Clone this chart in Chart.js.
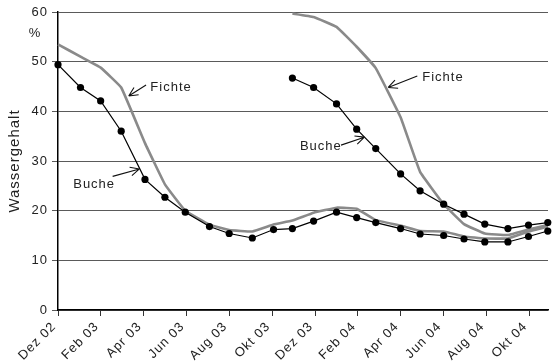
<!DOCTYPE html>
<html>
<head>
<meta charset="utf-8">
<script src="https://cdn.jsdelivr.net/npm/chart.js@4"></script>
<style>
  html, body { margin: 0; padding: 0; background: #fff; }
  #wrap { width: 552px; height: 364px; }
</style>
</head>
<body>
<div id="wrap"><canvas id="chart" width="552" height="364"></canvas></div>
<script>
// x positions are months counted from Dez 02
const xLabels = ["Dez 02", "Feb 03", "Apr 03", "Jun 03", "Aug 03", "Okt 03", "Dez 03", "Feb 04", "Apr 04", "Jun 04", "Aug 04", "Okt 04"];
const xTickMonths = [0, 2, 4, 6, 8, 10, 12, 14, 16, 18, 20, 22];
const yTicks = [0, 10, 20, 30, 40, 50, 60];

// first year (from Dez 02)
const monthsA = [0, 1.05, 1.99, 2.95, 4.06, 4.99, 5.94, 7.07, 7.99, 9.07, 10.06, 10.94, 11.93, 13.0, 13.94, 14.83, 15.99, 16.9, 18.0, 18.95, 19.92, 21.0, 21.96, 22.86];
const bucheA = [49.4, 44.8, 42.1, 36.0, 26.3, 22.7, 19.7, 16.8, 15.4, 14.5, 16.2, 16.4, 17.9, 19.7, 18.6, 17.6, 16.4, 15.3, 15.0, 14.3, 13.7, 13.7, 14.8, 15.9];
const fichteA = [53.5, 51.0, 48.8, 44.8, 33.6, 25.3, 20.0, 17.2, 16.1, 15.8, 17.2, 18.0, 19.6, 20.6, 20.4, 18.1, 17.0, 15.9, 15.8, 14.8, 14.4, 14.4, 15.8, 16.8];

// second year (from Dez 03)
const monthsB = [10.94, 11.93, 13.0, 13.94, 14.83, 15.99, 16.9, 18.0, 18.95, 19.92, 21.0, 21.96, 22.86];
const bucheB = [46.7, 44.8, 41.5, 36.4, 32.5, 27.4, 24.0, 21.3, 19.3, 17.3, 16.4, 17.1, 17.6];
const fichteB = [59.7, 59.0, 57.0, 53.0, 48.7, 38.8, 27.8, 21.3, 17.3, 15.4, 15.1, 16.2, 17.1];

// labels with arrows: text anchor and arrow (from -> to), in month / % units
const notes = [
  { text: "Fichte", at: [4.31, 44.9], from: [4.11, 45.3], to: [3.30, 43.1] },
  { text: "Buche", at: [0.71, 25.2], from: [2.55, 26.9], to: [3.80, 28.4] },
  { text: "Buche", at: [11.29, 32.9], from: [13.21, 33.2], to: [14.30, 34.8] },
  { text: "Fichte", at: [17.0, 46.8], from: [16.77, 47.1], to: [15.41, 44.8] }
];

const pts = (xs, ys) => xs.map((x, i) => ({ x: x, y: ys[i] }));
const FONT = "'Liberation Sans', Arial, sans-serif";

const buche = (xs, ys) => ({
  data: pts(xs, ys),
  borderColor: "#000",
  backgroundColor: "#000",
  borderWidth: 1.2,
  pointRadius: 3.6,
  pointBorderWidth: 0,
  tension: 0,
  order: 1,
  clip: false
});
const fichte = (xs, ys) => ({
  data: pts(xs, ys),
  borderColor: "#8a8a8a",
  borderWidth: 2.6,
  pointRadius: 0,
  tension: 0.08,
  order: 2,
  clip: false
});

const spacing = {
  id: "spacing",
  beforeDraw(chart) { chart.ctx.letterSpacing = "1px"; }
};

const annotations = {
  id: "annotations",
  afterDatasetsDraw(chart) {
    const { ctx, scales: { x, y } } = chart;
    ctx.save();
    ctx.font = "13px " + FONT;
    ctx.fillStyle = "#222";
    ctx.textBaseline = "middle";
    ctx.strokeStyle = "#111";
    ctx.lineWidth = 1.1;
    notes.forEach(n => {
      ctx.textAlign = "left";
      ctx.fillText(n.text, x.getPixelForValue(n.at[0]), y.getPixelForValue(n.at[1]));
      const x1 = x.getPixelForValue(n.from[0]), y1 = y.getPixelForValue(n.from[1]);
      const x2 = x.getPixelForValue(n.to[0]), y2 = y.getPixelForValue(n.to[1]);
      const ang = Math.atan2(y2 - y1, x2 - x1);
      ctx.beginPath();
      ctx.moveTo(x1, y1);
      ctx.lineTo(x2, y2);
      [0.45, -0.45].forEach(d => {
        ctx.moveTo(x2, y2);
        ctx.lineTo(x2 - 10 * Math.cos(ang + d), y2 - 10 * Math.sin(ang + d));
      });
      ctx.stroke();
    });
    // unit above the axis
    ctx.textAlign = "center";
    ctx.fillText("%", y.left + 35, y.getPixelForValue(55.6));
    ctx.restore();
  }
};

new Chart(document.getElementById("chart"), {
  type: "line",
  data: {
    datasets: [
      fichte(monthsA, fichteA),
      fichte(monthsB, fichteB),
      buche(monthsA, bucheA),
      buche(monthsB, bucheB)
    ]
  },
  options: {
    responsive: false,
    animation: false,
    layout: { padding: { top: 12, right: 0, left: 0, bottom: 0 } },
    plugins: { legend: { display: false }, tooltip: { enabled: false } },
    scales: {
      x: {
        type: "linear",
        min: 0,
        max: 22.87,
        afterFit: s => { s.height = 54; },
        afterBuildTicks: s => { s.ticks = xTickMonths.map(v => ({ value: v })); },
        border: { color: "#000", width: 1.5 },
        grid: { drawOnChartArea: false, drawTicks: true, tickLength: 6, color: "#333" },
        ticks: {
          autoSkip: false,
          minRotation: 45,
          maxRotation: 45,
          padding: 3,
          labelOffset: -4,
          color: "#222",
          font: { family: FONT, size: 13 },
          callback: v => xLabels[xTickMonths.indexOf(v)]
        }
      },
      y: {
        min: 0,
        max: 60,
        afterFit: s => { s.width = 58; },
        afterBuildTicks: s => { s.ticks = yTicks.map(v => ({ value: v })); },
        border: { color: "#000", width: 1.5 },
        grid: { color: "#5a5a5a", lineWidth: 1, tickLength: 6 },
        ticks: {
          padding: 4,
          color: "#222",
          font: { family: FONT, size: 13 }
        },
        title: {
          display: true,
          text: "Wassergehalt",
          color: "#222",
          padding: { top: 6, bottom: 0 },
          font: { family: FONT, size: 15 }
        }
      }
    }
  },
  plugins: [spacing, annotations]
});
</script>
</body>
</html>
